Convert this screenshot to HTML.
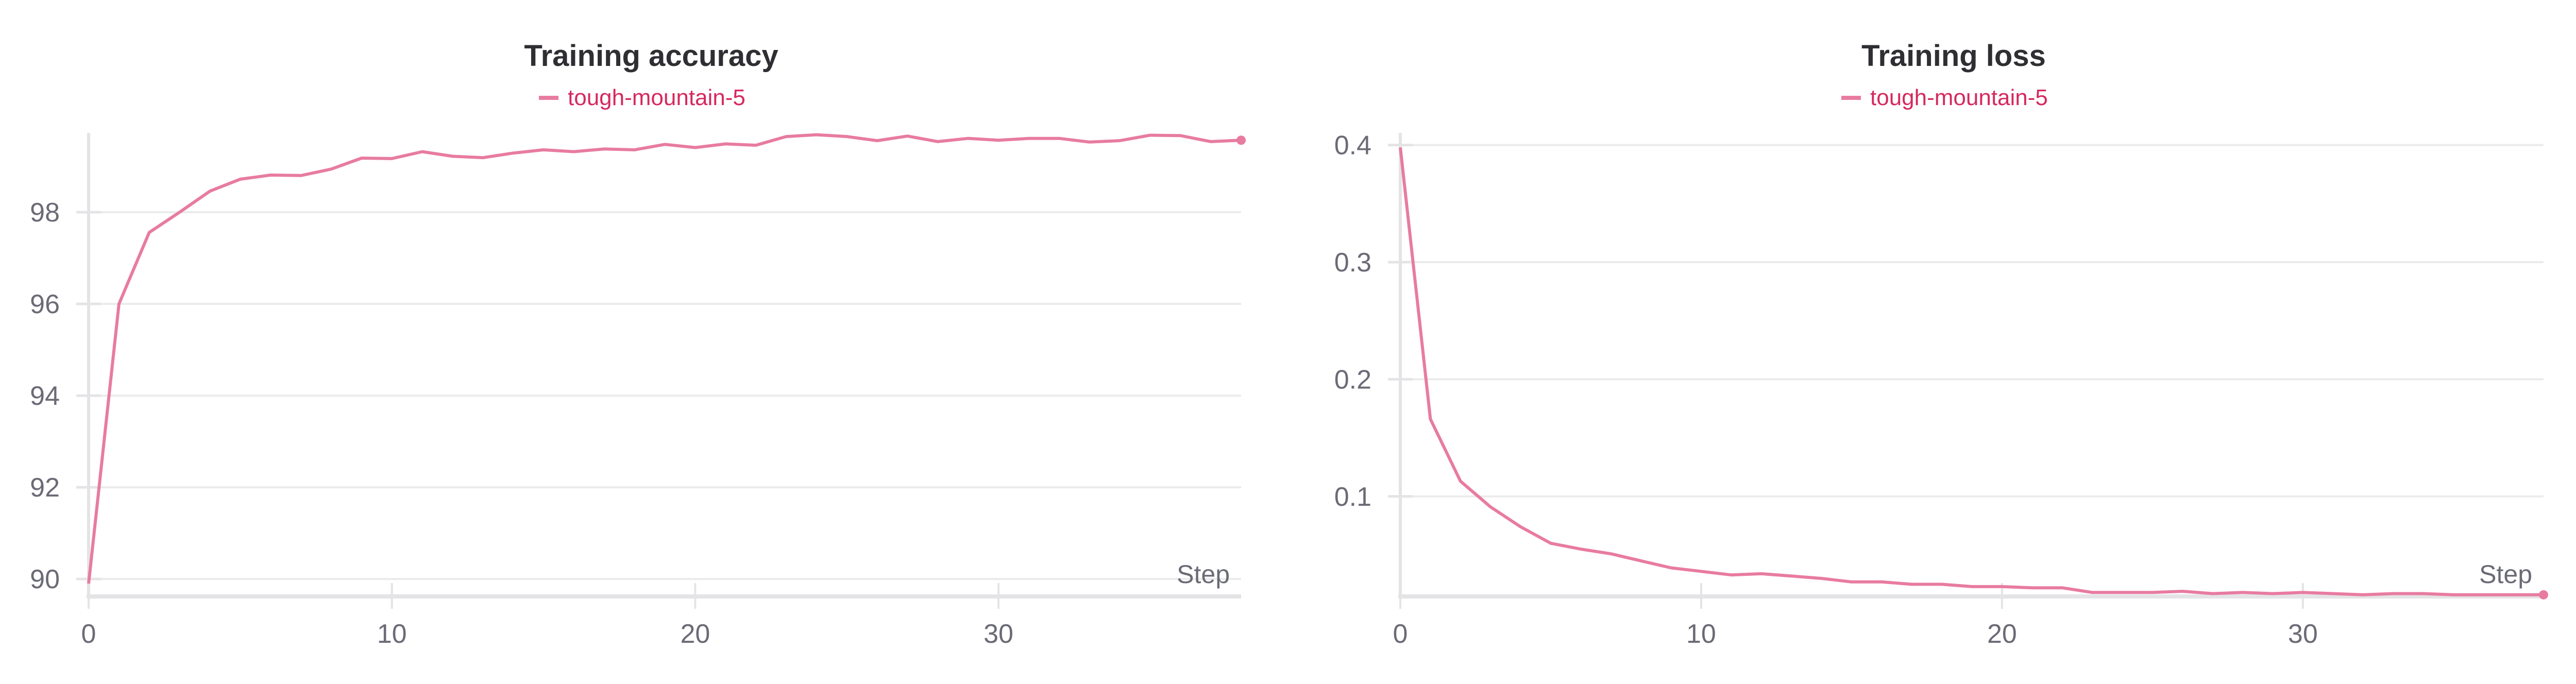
<!DOCTYPE html>
<html><head><meta charset="utf-8">
<style>
html,body{margin:0;padding:0;background:#fff;}
svg{display:block;}
text{font-family:"Liberation Sans Narrow","Liberation Sans",sans-serif;}
</style></head>
<body>
<svg id="c" width="5056" height="1328" viewBox="0 0 5056 1328" xmlns="http://www.w3.org/2000/svg"></svg>
<script>
const steps = [0,1,2,3,4,5,6,7,8,9,10,11,12,13,14,15,16,17,18,19,20,21,22,23,24,25,26,27,28,29,30,31,32,33,34,35,36,37,38];
const accuracy = [89.9,96.0,97.56,98.0,98.46,98.72,98.81,98.8,98.94,99.18,99.17,99.32,99.22,99.19,99.29,99.36,99.32,99.38,99.36,99.48,99.41,99.49,99.46,99.65,99.69,99.65,99.56,99.66,99.54,99.61,99.57,99.61,99.61,99.53,99.56,99.68,99.67,99.54,99.57];
const loss = [0.398,0.166,0.113,0.091,0.074,0.060,0.055,0.051,0.045,0.039,0.036,0.033,0.034,0.032,0.030,0.027,0.027,0.025,0.025,0.023,0.023,0.022,0.022,0.018,0.018,0.018,0.019,0.017,0.018,0.017,0.018,0.017,0.016,0.017,0.017,0.016,0.016,0.016,0.016];
const xTicks = [0,10,20,30];
const accTicks = [90,92,94,96,98];
const accTickLabels = ["90","92","94","96","98"];
const lossTicks = [0.1,0.2,0.3,0.4];
const lossTickLabels = ["0.1","0.2","0.3","0.4"];

const NS="http://www.w3.org/2000/svg";
const svg=document.getElementById('c');
function mk(tag,attrs,parent){const e=document.createElementNS(NS,tag);for(const k in attrs)e.setAttribute(k,attrs[k]);(parent||svg).appendChild(e);return e;}

function chart(cfg){
  const g=mk('g',{});
  
  
  const X0=cfg.x0,X1=cfg.x1,Ytop=258,Ybot=1158;
  const xs=v=>X0+(v-0)/(38-0)*(X1-X0);
  const ys=v=>Ybot-(v-cfg.ymin)/(cfg.ymax-cfg.ymin)*(Ybot-Ytop);
  const t=mk('text',{x:cfg.cx,y:128,'text-anchor':'middle','font-size':58,'font-weight':'bold',fill:'#2f2f33'},g);
  t.textContent=cfg.title;
  
  
  const lg=mk('g',{},g);
  
  
  mk('line',{x1:cfg.cx-218,x2:cfg.cx-180,y1:190,y2:190,stroke:'#e87ba0','stroke-width':8},lg);
  const lt=mk('text',{x:cfg.cx-162,y:204,'font-size':44,fill:'#d6285f'},lg);
  lt.textContent='tough-mountain-5';
  cfg.yt.forEach((v,i)=>{
    const y=ys(v);
    const gl=mk('line',{x1:X0,x2:X1,y1:y,y2:y,stroke:'#ebebeb','stroke-width':4},g);
    
    
    mk('line',{x1:X0-24,x2:X0+24,y1:y,y2:y,stroke:'#e4e4e6','stroke-width':5},g);
    const tl=mk('text',{x:X0-56,y:y+18,'text-anchor':'end','font-size':52,fill:'#6b6b76'},g);
    tl.textContent=cfg.ytl[i];
    
    
  });
  const ya=mk('line',{x1:X0,x2:X0,y1:Ytop,y2:Ybot,stroke:'#e4e4e6','stroke-width':6},g);
  
  
  const xa=mk('line',{x1:X0-4,x2:X1,y1:Ybot,y2:Ybot,stroke:'#e4e4e6','stroke-width':8},g);
  
  
  xTicks.forEach(v=>{
    const x=xs(v);
    mk('line',{x1:x,x2:x,y1:v===0?Ybot:Ybot-26,y2:Ybot+24,stroke:'#e4e4e6','stroke-width':4},g);
    const tl=mk('text',{x:x,y:1248,'text-anchor':'middle','font-size':52,fill:'#6b6b76'},g);
    tl.textContent=String(v);
    
    
  });
  const st=mk('text',{x:X1-22,y:1132,'text-anchor':'end','font-size':50,fill:'#6b6b76'},g);
  st.textContent='Step';
  
  
  const pts=steps.map((s,i)=>xs(s).toFixed(1)+','+ys(cfg.data[i]).toFixed(1)).join(' ');
  const pl=mk('polyline',{points:pts,fill:'none',stroke:'#e87ba0','stroke-width':6,'stroke-linejoin':'round'},g);
  
  
  const last=steps.length-1;
  const dot=mk('circle',{cx:xs(steps[last]),cy:ys(cfg.data[last]),r:9,fill:'#e87ba0'},g);
  
  
}
chart({name:'training-accuracy-chart',title:'Training accuracy',cx:1264,x0:172,x1:2409,ymin:89.62,ymax:99.73,data:accuracy,yt:accTicks,ytl:accTickLabels});
chart({name:'training-loss-chart',title:'Training loss',cx:3792,x0:2718,x1:4937,ymin:0.0146,ymax:0.4104,data:loss,yt:lossTicks,ytl:lossTickLabels});
</script>
</body></html>
